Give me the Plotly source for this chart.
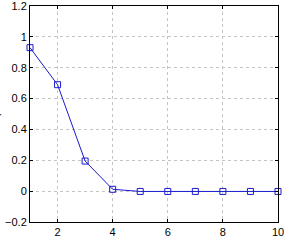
import plotly.graph_objects as go

x_vals = [1, 2, 3, 4, 5, 6, 7, 8, 9, 10]
y_vals = [0.93, 0.69, 0.195, 0.012, -0.002, -0.002, -0.002, -0.002, -0.002, -0.002]
x_ticks = [2, 4, 6, 8, 10]
y_ticks = [-0.2, 0, 0.2, 0.4, 0.6, 0.8, 1, 1.2]
y_tick_text = ["\u22120.2", "0", "0.2", "0.4", "0.6", "0.8", "1", "1.2"]

blue = "#1a1acc"

fig = go.Figure()
fig.add_trace(go.Scatter(
    x=x_vals, y=y_vals, mode="lines+markers",
    line=dict(color=blue, width=1),
    marker=dict(symbol="square-open", size=6, color=blue, line=dict(width=1, color=blue)),
    cliponaxis=False, showlegend=False,
))

axis_common = dict(
    showline=True, linecolor="black", linewidth=1, mirror="ticks",
    ticks="inside", ticklen=3, tickcolor="black",
    showgrid=True, gridcolor="#c4c4c4", griddash="dot", gridwidth=1,
    zeroline=False, automargin=False, ticklabeloverflow="allow",
    tickfont=dict(family="Liberation Sans, Arial", size=11, color="black"),
)

fig.update_layout(
    width=284, height=244,
    margin=dict(l=30, r=6, t=6, b=22),
    paper_bgcolor="white", plot_bgcolor="white",
    xaxis=dict(range=[1, 10], tickvals=x_ticks, **axis_common),
    yaxis=dict(range=[-0.2, 1.2], tickvals=y_ticks, ticktext=y_tick_text, **axis_common),
)

fig.add_annotation(text="r", xref="paper", yref="paper", x=0.5, y=0, yshift=-36,
                   showarrow=False, font=dict(family="Liberation Sans, Arial", size=11, color="black"),
                   xanchor="center", yanchor="bottom")
fig.add_annotation(text="r", xref="paper", yref="paper", x=0, y=0.5, xshift=-33,
                   textangle=-90, showarrow=False,
                   font=dict(family="Liberation Sans, Arial", size=11, color="black"),
                   xanchor="center", yanchor="middle")

fig.write_html("out.html")
